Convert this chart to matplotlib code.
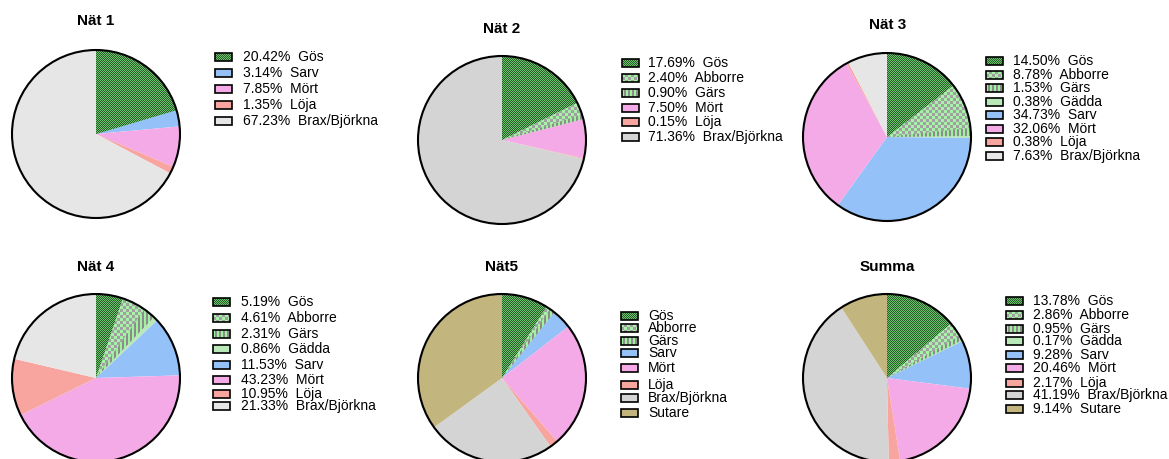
import matplotlib
matplotlib.use("Agg")
import numpy as np
import matplotlib.pyplot as plt
from matplotlib.patches import Rectangle, Circle
from matplotlib.colors import to_rgb

plt.rcParams['font.family'] = ['Liberation Sans', 'DejaVu Sans']

# ---------------- data ----------------
titles = ['Nät 1', 'Nät 2', 'Nät 3', 'Nät 4', 'Nät5', 'Summa']

net1_species = ['Gös', 'Sarv', 'Mört', 'Löja', 'Brax/Björkna']
net1_values = [20.42, 3.14, 7.85, 1.35, 67.23]

net2_species = ['Gös', 'Abborre', 'Gärs', 'Mört', 'Löja', 'Brax/Björkna']
net2_values = [17.69, 2.40, 0.90, 7.50, 0.15, 71.36]

net3_species = ['Gös', 'Abborre', 'Gärs', 'Gädda', 'Sarv', 'Mört', 'Löja', 'Brax/Björkna']
net3_values = [14.50, 8.78, 1.53, 0.38, 34.73, 32.06, 0.38, 7.63]

net4_species = ['Gös', 'Abborre', 'Gärs', 'Gädda', 'Sarv', 'Mört', 'Löja', 'Brax/Björkna']
net4_values = [5.19, 4.61, 2.31, 0.86, 11.53, 43.23, 10.95, 21.33]

# Nät5 has no printed percentages
net5_species = ['Gös', 'Abborre', 'Gärs', 'Sarv', 'Mört', 'Löja', 'Brax/Björkna', 'Sutare']
net5_values = [8.9, 0.8, 1.0, 3.8, 24.1, 1.6, 24.8, 35.0]

summa_species = ['Gös', 'Abborre', 'Gärs', 'Gädda', 'Sarv', 'Mört', 'Löja', 'Brax/Björkna', 'Sutare']
summa_values = [13.78, 2.86, 0.95, 0.17, 9.28, 20.46, 2.17, 41.19, 9.14]

species_lists = [net1_species, net2_species, net3_species, net4_species, net5_species, summa_species]
value_lists = [net1_values, net2_values, net3_values, net4_values, net5_values, summa_values]
show_pct = [True, True, True, True, False, True]

# ---------------- style ----------------
# species -> (base colour, pattern kind, pattern colour A, pattern colour B)
STYLE = {
    'Gös': ('#4a8f4a', 'fine_check', '#68c468', '#2c5c2c'),
    'Abborre': ('#a4cca4', 'check3', '#a6f2a6', '#a0a0a0'),
    'Gärs': ('#9cd29c', 'vstripe', '#9ef29e', '#8c8c8c'),
    'Gädda': ('#b9e9b9', None, None, None),
    'Sarv': ('#94c2f8', None, None, None),
    'Mört': ('#f5aae8', None, None, None),
    'Löja': ('#f8a5a0', None, None, None),
    'Brax/Björkna': ('#e6e6e6', None, None, None),
    'Sutare': ('#c2b57d', None, None, None),
}
brax_color = ['#e6e6e6', '#d4d4d4', '#e6e6e6', '#e6e6e6', '#d4d4d4', '#d4d4d4']

W, H, DPI = 1169, 459, 100

# layout (pixels)
pie_centres = [(96, 134), (502, 140), (887, 137),
               (96, 378), (502, 378), (887, 378)]
R = 84
title_pos = [(95.7, 20.7), (501.7, 29.3), (887.3, 25.0),
             (95.7, 266.7), (501.7, 266.7), (887.0, 266.7)]
leg_box_x = [215, 622, 986, 213, 621, 1006]
leg_text_x = [242.7, 648.3, 1013.3, 240.7, 648.3, 1033.3]
leg_rows = [
    [57, 73, 89, 105, 121],
    [63, 78, 93, 108, 122, 137],
    [61, 75, 88, 102, 115, 129, 142, 156],
    [302, 318, 334, 349, 365, 380, 394, 406],
    [316, 328, 341, 353, 368, 385, 398, 413],
    [301, 315, 329, 341, 355, 368, 383, 395, 409],
]
BOX_W, BOX_H = 17, 8


def pattern_img(kind, ca, cb, h, w):
    yy, xx = np.mgrid[0:h, 0:w]
    if kind == 'fine_check':
        mask = (xx + yy) % 2 == 0
    elif kind == 'check3':
        mask = ((xx // 3) + (yy // 3)) % 2 == 0
    else:  # vertical stripes
        mask = (xx % 4) < 2
    a = np.array(to_rgb(ca))
    b = np.array(to_rgb(cb))
    return np.where(mask[..., None], a, b)


def style_for(sp, k):
    base, kind, ca, cb = STYLE[sp]
    if sp == 'Brax/Björkna':
        base = brax_color[k]
    return base, kind, ca, cb


fig = plt.figure(figsize=(W / DPI, H / DPI), dpi=DPI)
fig.patch.set_facecolor('white')

ov = fig.add_axes([0, 0, 1, 1], zorder=5)
ov.set_xlim(0, W)
ov.set_ylim(H, 0)
ov.axis('off')
ov.patch.set_alpha(0)

NPIX = 2 * R

for k in range(6):
    species = species_lists[k]
    values = value_lists[k]
    cx, cy = pie_centres[k]
    ax = fig.add_axes([(cx - R) / W, (H - cy - R) / H, NPIX / W, NPIX / H], zorder=0)
    bases = [style_for(s, k)[0] for s in species]
    wedges, _ = ax.pie(values, colors=bases, startangle=90, counterclock=False,
                       wedgeprops=dict(linewidth=0))
    ax.set_xlim(-1, 1)
    ax.set_ylim(-1, 1)
    ax.axis('off')
    for w, sp in zip(wedges, species):
        base, kind, ca, cb = style_for(sp, k)
        if kind:
            im = fig.figimage(pattern_img(kind, ca, cb, NPIX, NPIX),
                              xo=cx - R, yo=H - cy - R, origin='upper', zorder=1)
            im.set_clip_path(w)
    # outline drawn in overlay (above the pattern images)
    ov.add_patch(Circle((cx, cy), R, fill=False, ec='black', lw=1.5, clip_on=False, zorder=3))

    tx, ty = title_pos[k]
    ov.text(tx, ty, titles[k], ha='center', va='center', fontsize=11, fontweight='bold')

    for sp, v, y in zip(species, values, leg_rows[k]):
        base, kind, ca, cb = style_for(sp, k)
        bx = leg_box_x[k]
        if kind:
            fig.figimage(pattern_img(kind, ca, cb, BOX_H, BOX_W),
                         xo=bx, yo=H - y - BOX_H // 2, origin='upper', zorder=1)
        else:
            ov.add_patch(Rectangle((bx, y - BOX_H / 2), BOX_W, BOX_H, facecolor=base,
                                   edgecolor='none', lw=0, zorder=1))
        ov.add_patch(Rectangle((bx, y - BOX_H / 2), BOX_W, BOX_H, facecolor='none',
                               edgecolor='black', lw=1.2, zorder=2))
        label = f"{v:.2f}%  {sp}" if show_pct[k] else sp
        ov.text(leg_text_x[k], y, label, ha='left', va='center', fontsize=10)

fig.savefig('out.png', dpi=DPI, facecolor='white')
